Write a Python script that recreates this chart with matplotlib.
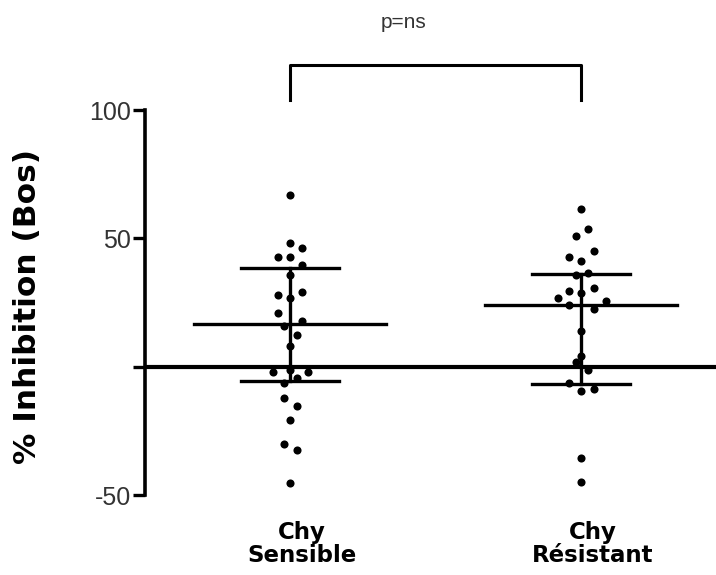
import numpy as np
import matplotlib.pyplot as plt
from matplotlib.transforms import ScaledTranslation

groups = ['Chy\nSensible', 'Chy\nRésistant']

# valeurs (% inhibition)
sensible = [66.9, 48.4, 46.2, 42.7, 42.7, 39.7, 35.8, 28.0, 29.3, 26.7, 21.1, 18.0, 15.7,
            12.5, 7.9, -2.2, -1.2, -2.2, -6.4, -4.4, -12.2, -15.4, -20.9, -30.0, -32.3, -45.3]
sensible_dx = [0, 0, 12, -12, 0, 12, 0, -12, 12, 0, -12, 12, -6,
               7, 0, -17, 0, 18, -6, 7, -6, 7, 0, -6, 7, 0]

resistant = [61.4, 53.6, 51.1, 45.1, 42.9, 41.0, 35.8, 36.4, 29.6, 30.6, 28.7, 26.7,
             25.8, 23.9, 22.6, 14.1, 4.0, 1.8, -1.2, -6.4, -9.3, -8.6, -35.5, -44.9]
resistant_dx = [0, 7, -5, 13, -12, 0, -5, 7, -12, 13, 0, -23,
                25, -12, 13, 0, 0, -5, 7, -12, 0, 13, 0, 0]

centre = [16.6, 24.1]
haut = [38.4, 36.2]
bas = [-5.4, -6.6]

px = 1 / 291  # largeur d'un pixel en unités de x

fig = plt.figure(figsize=(7.16, 5.75), dpi=100)
ax = fig.add_axes([0.2025, 0.139, 0.7975, 0.6696])

for i, (vals, dx) in enumerate([(sensible, sensible_dx), (resistant, resistant_dx)]):
    x = i + 1
    ax.scatter(x + np.array(dx) * px, vals, s=34, color='black', zorder=3, linewidths=0)
    ax.plot([x, x], [bas[i], haut[i]], color='black', lw=2.4, zorder=2)
    ax.plot([x - 0.168, x + 0.168], [haut[i]] * 2, color='black', lw=2.4)
    ax.plot([x - 0.168, x + 0.168], [bas[i]] * 2, color='black', lw=2.4)
    ax.plot([x - 0.33, x + 0.33], [centre[i]] * 2, color='black', lw=2.4)

ax.axhline(0, color='black', lw=3)

# crochet de significativité
ax.plot([1, 1, 2, 2], [104, 117.5, 117.5, 104], color='black', lw=2.2, clip_on=False)
ax.text(1.39, 134, 'p=ns', ha='center', va='center', fontsize=15,
        color='#333333', family='Liberation Sans')

ax.set_xlim(0.5017, 2.464)
ax.set_ylim(-50, 100)
for s in ['top', 'right', 'bottom']:
    ax.spines[s].set_visible(False)
ax.spines['left'].set_linewidth(2.6)
ax.spines['left'].set_bounds(-50, 100)

ax.set_yticks([-50, 0, 50, 100])
ax.set_yticklabels(['-50', '', '50', '100'], family='Liberation Sans', fontsize=18,
                   color='#333333')
ax.tick_params(axis='y', length=9, width=2.4, pad=1)

ax.set_xticks([1, 2])
ax.set_xticklabels(groups, fontsize=16.5, fontweight='bold', family='DejaVu Sans',
                   linespacing=1.0)
ax.tick_params(axis='x', length=0, pad=19)
for lab in ax.get_xticklabels():
    lab.set_transform(lab.get_transform() + ScaledTranslation(12 / 100, 0, fig.dpi_scale_trans))

ax.set_ylabel('% Inhibition (Bos)', fontsize=22.5, fontweight='bold', family='DejaVu Sans')
ax.yaxis.set_label_coords(-0.18, 0.49)

plt.savefig('out.png', dpi=100)
